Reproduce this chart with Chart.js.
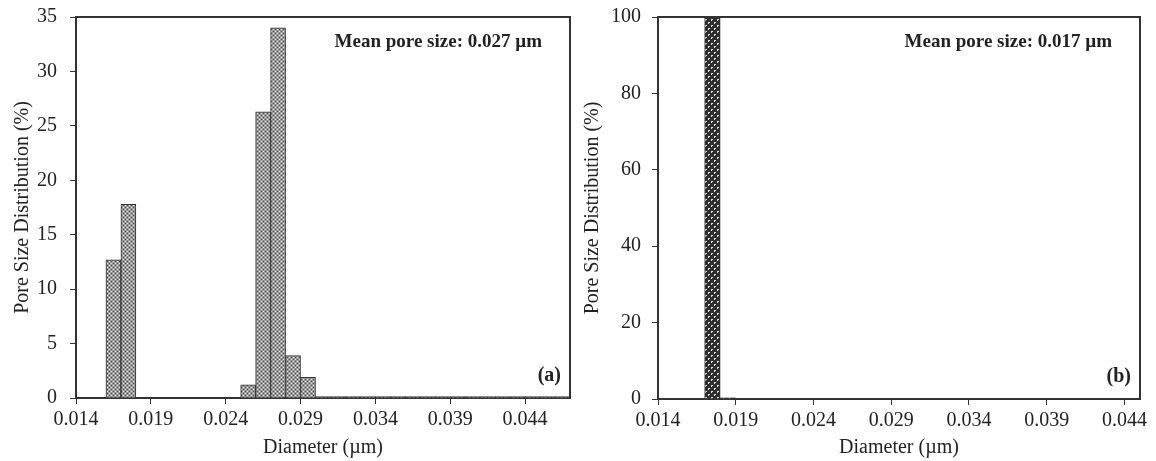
<!DOCTYPE html>
<html>
<head>
<meta charset="utf-8">
<script src="https://cdn.jsdelivr.net/npm/chart.js@4/dist/chart.umd.min.js"></script>
<style>
  html, body { margin: 0; padding: 0; background: #fff; }
  #wrap { position: relative; width: 1156px; height: 461px; }
  canvas { position: absolute; top: 0; }
  #chartA { left: 0; }
  #chartB { left: 578px; }
</style>
</head>
<body>
<div id="wrap">
  <canvas id="chartA" width="578" height="461"></canvas>
  <canvas id="chartB" width="578" height="461"></canvas>
</div>
<script>
// bin centres (um) and pore size distribution (%)
const diametersA = [0.0165, 0.0175, 0.0255, 0.0265, 0.0275, 0.0285, 0.0295,
    0.0305, 0.0315, 0.0325, 0.0335, 0.0345, 0.0355, 0.0365, 0.0375, 0.0385,
    0.0395, 0.0405, 0.0415, 0.0425, 0.0435, 0.0445, 0.0455, 0.0465];
const distributionA = [12.7, 17.8, 1.2, 26.3, 34.0, 3.9, 1.9,
    0.12, 0.12, 0.12, 0.12, 0.12, 0.12, 0.12, 0.12, 0.12,
    0.12, 0.12, 0.12, 0.12, 0.12, 0.12, 0.12, 0.12];

const diametersB = [0.0175, 0.0185];
const distributionB = [100, 0.3];

const xTicks = [0.014, 0.019, 0.024, 0.029, 0.034, 0.039, 0.044];

const meanLabelA = 'Mean pore size: 0.027 \u00b5m';
const meanLabelB = 'Mean pore size: 0.017 \u00b5m';

const FONT = "'Liberation Serif', 'Times New Roman', serif";
const INK = '#222';
const AXIS = '#333';

// little hatch tiles to mimic the printed bar fills
function makePattern(kind) {
    const c = document.createElement('canvas');
    const g = c.getContext('2d');
    if (kind === 'a') {
        c.width = 4; c.height = 4;
        g.fillStyle = '#9a9a9a'; g.fillRect(0, 0, 4, 4);
        g.fillStyle = '#e8e8e8'; g.fillRect(1, 1, 1, 1); g.fillRect(3, 3, 1, 1);
        g.fillStyle = '#4a4a4a'; g.fillRect(3, 1, 1, 1); g.fillRect(1, 3, 1, 1);
    } else {
        c.width = 6; c.height = 6;
        g.fillStyle = '#2e2e2e'; g.fillRect(0, 0, 6, 6);
        g.fillStyle = '#dcdcdc';
        g.fillRect(1, 1, 2, 1); g.fillRect(1, 2, 1, 1);
        g.fillRect(4, 4, 2, 1); g.fillRect(4, 5, 1, 1);
    }
    return g.createPattern(c, 'repeat');
}

// frame (top + right) and the text notes inside the plot
const notesPlugin = {
    id: 'notes',
    afterDraw(chart, args, opts) {
        const a = chart.chartArea;
        const ctx = chart.ctx;
        ctx.save();
        ctx.strokeStyle = AXIS;
        ctx.lineWidth = 2;
        ctx.beginPath();
        ctx.moveTo(a.left, a.top);
        ctx.lineTo(a.right, a.top);
        ctx.lineTo(a.right, a.bottom);
        ctx.stroke();

        ctx.fillStyle = INK;
        ctx.textAlign = 'right';
        ctx.textBaseline = 'middle';
        ctx.font = 'bold 19px ' + FONT;
        ctx.fillText(opts.mean, a.right - 28, a.top + 25);
        ctx.font = 'bold 20px ' + FONT;
        ctx.fillText(opts.tag, a.right - 9, a.bottom - 22);
        ctx.restore();
    }
};

function makeChart(id, diameters, values, cfg) {
    const ctx = document.getElementById(id).getContext('2d');
    const points = diameters.map((d, i) => ({ x: d, y: values[i] }));

    return new Chart(ctx, {
        type: 'bar',
        data: {
            datasets: [{
                data: points,
                backgroundColor: makePattern(cfg.pattern),
                borderColor: '#333',
                borderWidth: 1,
                barPercentage: 1.0,
                categoryPercentage: 1.0
            }]
        },
        options: {
            responsive: false,
            animation: false,
            layout: { padding: { top: 17, right: cfg.padRight, left: 0, bottom: 0 } },
            plugins: {
                legend: { display: false },
                tooltip: { enabled: false },
                notes: { mean: cfg.mean, tag: cfg.tag }
            },
            scales: {
                x: {
                    type: 'linear',
                    offset: false,
                    min: 0.014,
                    max: cfg.xMax,
                    afterBuildTicks: s => { s.ticks = xTicks.map(v => ({ value: v })); },
                    afterFit: s => { s.height = cfg.xHeight; },
                    ticks: {
                        autoSkip: false,
                        maxRotation: 0,
                        padding: 4,
                        color: INK,
                        font: { family: FONT, size: 20 },
                        callback: v => Number(v).toFixed(3)
                    },
                    grid: { drawOnChartArea: false, drawTicks: true, tickLength: 6, color: AXIS, offset: false },
                    border: { display: true, color: AXIS, width: 2 },
                    title: {
                        display: true,
                        text: 'Diameter (\u00b5m)',
                        color: INK,
                        font: { family: FONT, size: 20 },
                        padding: { top: 0, bottom: 1 }
                    }
                },
                y: {
                    min: 0,
                    max: cfg.yMax,
                    afterFit: s => {
                        s.width = cfg.yWidth;
                        s.paddingTop = 0;
                        s.paddingBottom = 0;
                    },
                    ticks: {
                        stepSize: cfg.yStep,
                        padding: cfg.yPad,
                        color: INK,
                        font: { family: FONT, size: 20 }
                    },
                    grid: { drawOnChartArea: false, drawTicks: true, tickLength: 6, color: AXIS },
                    border: { display: true, color: AXIS, width: 2 },
                    title: {
                        display: true,
                        text: 'Pore Size Distribution (%)',
                        color: INK,
                        font: { family: FONT, size: 20 },
                        padding: { top: cfg.titlePad, bottom: 0 }
                    }
                }
            }
        },
        plugins: [notesPlugin]
    });
}

makeChart('chartA', diametersA, distributionA, {
    pattern: 'a', mean: meanLabelA, tag: '(a)',
    xMax: 0.047, yMax: 35, yStep: 5,
    yWidth: 76, xHeight: 63, padRight: 8, yPad: 13, titlePad: 11
});

makeChart('chartB', diametersB, distributionB, {
    pattern: 'b', mean: meanLabelB, tag: '(b)',
    xMax: 0.045, yMax: 100, yStep: 20,
    yWidth: 80, xHeight: 62, padRight: 16, yPad: 11, titlePad: 3
});
</script>
</body>
</html>
